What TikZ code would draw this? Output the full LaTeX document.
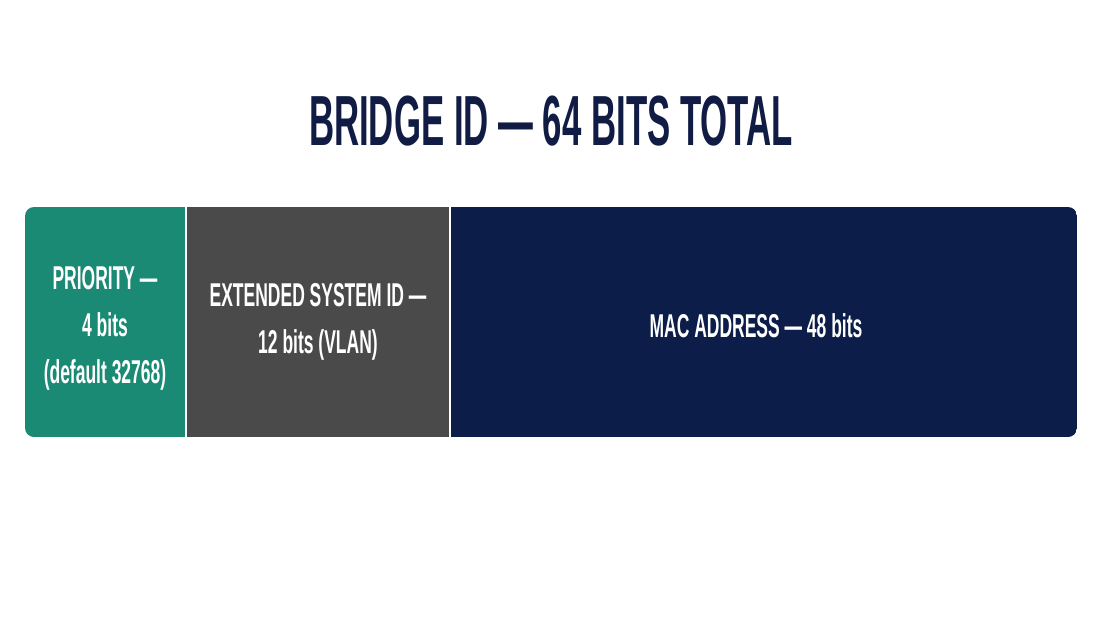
\documentclass[tikz,border=0pt]{standalone}
\usepackage{fontspec}
\setmainfont{Liberation Sans}
\newfontfamily\titlefont{Liberation Sans}[FakeStretch=0.49]
\newfontfamily\segfont{Liberation Sans}[FakeStretch=0.53]
\definecolor{prio}{RGB}{27,138,117}
\definecolor{ext}{RGB}{74,74,74}
\definecolor{mac}{RGB}{11,29,72}
\definecolor{titlecol}{RGB}{17,28,68}
\tikzset{
  seg/.style={inner sep=0pt, outer sep=0pt, minimum height=230pt, text=white,
    align=center, font=\segfont\bfseries\fontsize{33}{47}\selectfont},
}
\begin{document}
\begin{tikzpicture}[x=1pt,y=-1pt]
\useasboundingbox[fill=white] (0,0) rectangle (1100,635);
\node[anchor=base, text=titlecol, font=\titlefont\bfseries\fontsize{71}{72}\selectfont, inner sep=0pt] (title) at (551,145) {BRIDGE ID — 64 BITS TOTAL};
\begin{scope}
\clip[rounded corners=9pt] (25,207) rectangle (1077,437);
\node[seg, fill=prio, minimum width=160pt] (p) at (105,322) {};
\node[seg, fill=ext, minimum width=262pt] (e) at (318,322) {};
\node[seg, fill=mac, minimum width=626pt] (m) at (764,322) {};
\end{scope}
\node[seg, minimum height=0pt] (pt) at (105,328) {PRIORITY —\\4 bits\\(default 32768)};
\node[seg, minimum height=0pt] (et) at (318,322) {EXTENDED SYSTEM ID —\\12 bits (VLAN)};
\node[seg, minimum height=0pt] (mt) at (756,326) {MAC ADDRESS — 48 bits};
\end{tikzpicture}
\end{document}
